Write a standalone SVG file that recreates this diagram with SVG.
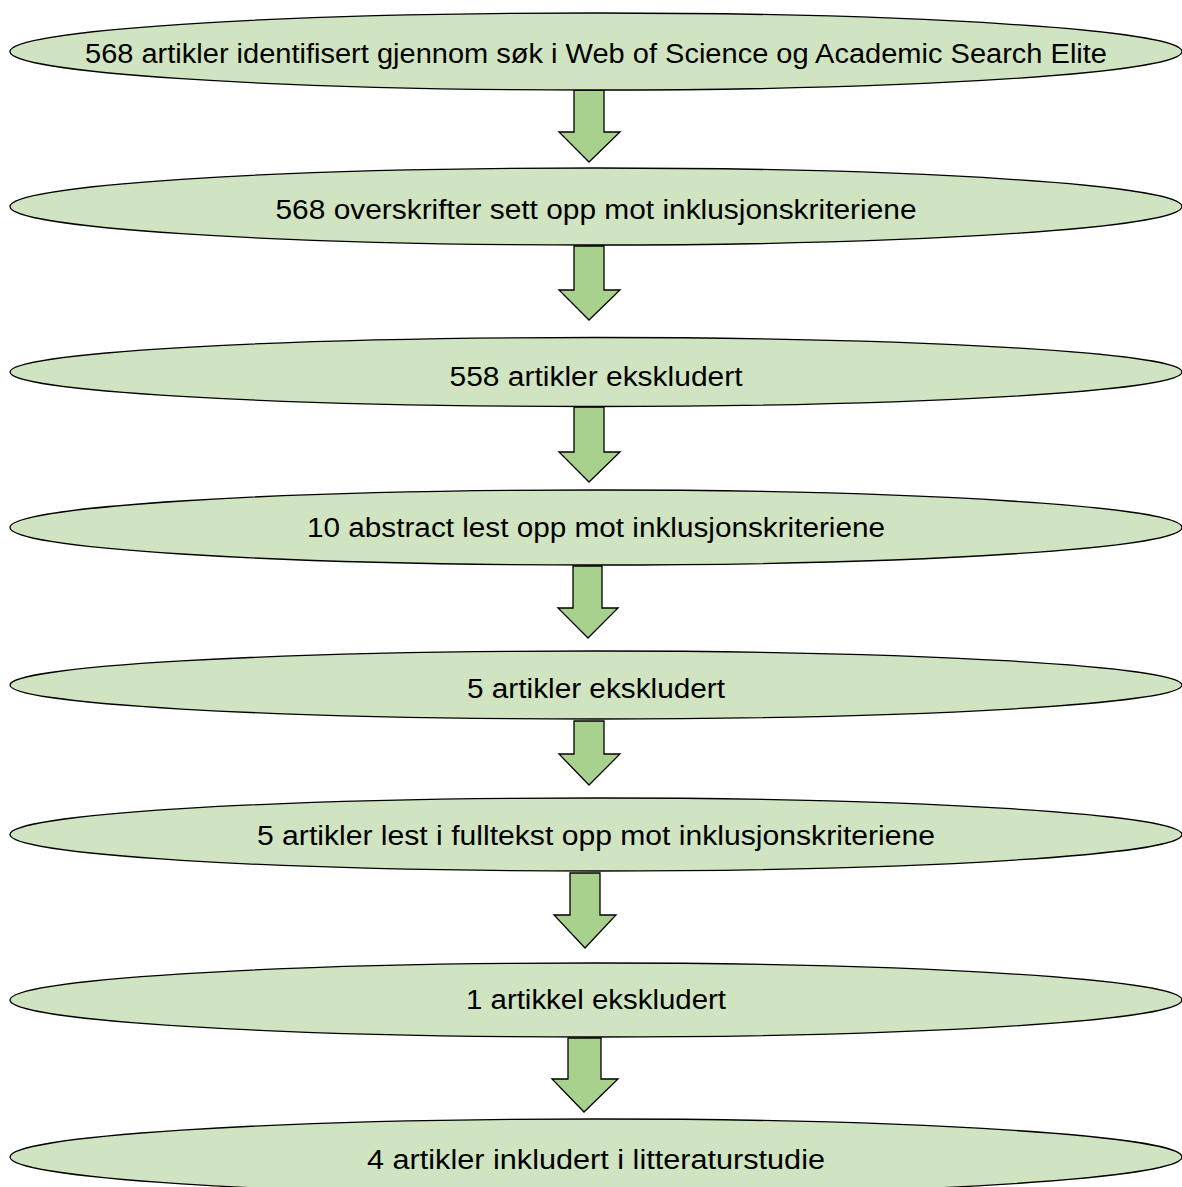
<svg xmlns="http://www.w3.org/2000/svg" width="1182" height="1187" viewBox="0 0 1182 1187">
<style>
.n{fill:#d0e4c1;stroke:#000;stroke-width:1.3}
.a{fill:#a9d18e;stroke:#000;stroke-width:1.3;stroke-linejoin:miter}
.t{font-family:"Liberation Sans",Arial,sans-serif;font-size:27px;fill:#000;text-anchor:middle}
</style>
<rect width="1182" height="1187" fill="#fff"/>
<g id="connectors">
<polygon class="a" points="574,90 604,90 604,132 620,132 589,162 559,132 574,132"/>
<polygon class="a" points="574,246 604,246 604,290 620,290 589,320 559,290 574,290"/>
<polygon class="a" points="574,407 604,407 604,452 620,452 589,482 559,452 574,452"/>
<polygon class="a" points="573,566 602,566 602,608 618,608 588,638 558,608 573,608"/>
<polygon class="a" points="574,721 604,721 604,754 620,754 589,785 559,754 574,754"/>
<polygon class="a" points="570,873 600,873 600,915 616,915 585,948 554,915 570,915"/>
<polygon class="a" points="568,1038 601,1038 601,1079 618,1079 584,1112 552,1079 568,1079"/>
</g>
<g id="n1"><ellipse class="n" cx="596" cy="51.5" rx="586" ry="38.5"/><text class="t" x="596" y="63" textLength="1022" lengthAdjust="spacingAndGlyphs">568 artikler identifisert gjennom søk i Web of Science og Academic Search Elite</text></g>
<g id="n2"><ellipse class="n" cx="596" cy="206.5" rx="586" ry="38.5"/><text class="t" x="596" y="219" textLength="641" lengthAdjust="spacingAndGlyphs">568 overskrifter sett opp mot inklusjonskriteriene</text></g>
<g id="n3"><ellipse class="n" cx="596" cy="372" rx="586" ry="34.5"/><text class="t" x="596" y="386" textLength="293" lengthAdjust="spacingAndGlyphs">558 artikler ekskludert</text></g>
<g id="n4"><ellipse class="n" cx="596" cy="527.5" rx="586" ry="37.5"/><text class="t" x="596" y="537" textLength="578" lengthAdjust="spacingAndGlyphs">10 abstract lest opp mot inklusjonskriteriene</text></g>
<g id="n5"><ellipse class="n" cx="596" cy="685" rx="586" ry="34"/><text class="t" x="596" y="698" textLength="258" lengthAdjust="spacingAndGlyphs">5 artikler ekskludert</text></g>
<g id="n6"><ellipse class="n" cx="596" cy="834.5" rx="586" ry="36.5"/><text class="t" x="596" y="845" textLength="678" lengthAdjust="spacingAndGlyphs">5 artikler lest i fulltekst opp mot inklusjonskriteriene</text></g>
<g id="n7"><ellipse class="n" cx="596" cy="1000" rx="586" ry="37"/><text class="t" x="596" y="1009" textLength="260" lengthAdjust="spacingAndGlyphs">1 artikkel ekskludert</text></g>
<g id="n8"><ellipse class="n" cx="596" cy="1157" rx="586" ry="38"/><text class="t" x="596" y="1169" textLength="458" lengthAdjust="spacingAndGlyphs">4 artikler inkludert i litteraturstudie</text></g>
</svg>
